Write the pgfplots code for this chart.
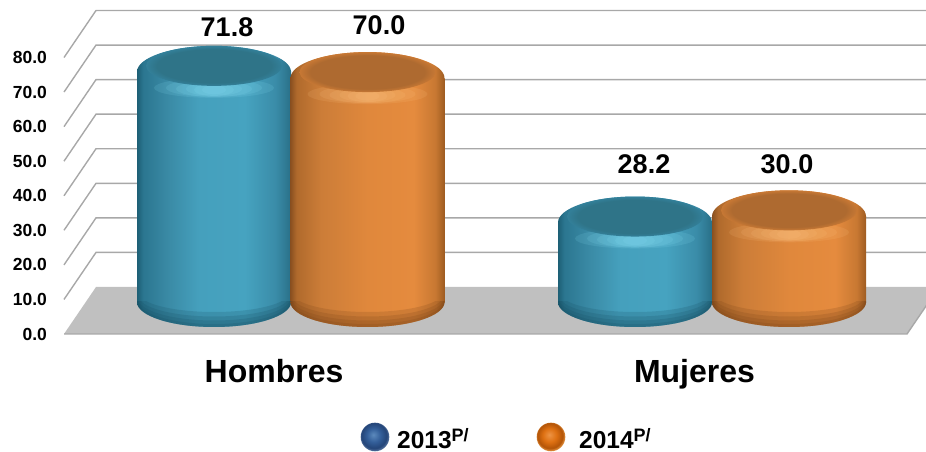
\documentclass[border=0pt]{standalone}
\usepackage{fontspec}
\setmainfont{Liberation Sans}
\usepackage{pgfplots}
\pgfplotsset{compat=1.18}

\definecolor{gridgray}{HTML}{A8A8A8}
\definecolor{floorgray}{HTML}{C0C0C0}
\definecolor{ta}{HTML}{174F63}
\definecolor{oa}{HTML}{7A4418}
\definecolor{thi}{HTML}{8FE6FA}
\definecolor{ohi}{HTML}{FFC98A}

% the visible part of a shading is its middle, 25bp to 75bp
\pgfdeclarehorizontalshading{bodyT}{100bp}{rgb(0bp)=(.114,.373,.459); rgb(25bp)=(.114,.373,.459); rgb(27bp)=(.169,.463,.565); rgb(35bp)=(.227,.541,.647);
  rgb(45bp)=(.271,.627,.741); rgb(60bp)=(.275,.639,.753); rgb(70bp)=(.227,.549,.659); rgb(75bp)=(.161,.438,.533); rgb(100bp)=(.161,.438,.533)}
\pgfdeclarehorizontalshading{bodyO}{100bp}{rgb(0bp)=(.541,.314,.125); rgb(25bp)=(.541,.314,.125); rgb(27bp)=(.69,.416,.173); rgb(35bp)=(.8,.49,.22);
  rgb(50bp)=(.878,.533,.235); rgb(65bp)=(.898,.545,.243); rgb(72bp)=(.784,.471,.196); rgb(75bp)=(.62,.36,.13); rgb(100bp)=(.62,.36,.13)}
\pgfdeclareradialshading{discT}{\pgfpoint{0bp}{0bp}}{rgb(0bp)=(.184,.455,.533); rgb(21bp)=(.184,.455,.533); rgb(25bp)=(.2,.5,.6); rgb(50bp)=(.2,.5,.6)}
\pgfdeclareradialshading{discO}{\pgfpoint{0bp}{0bp}}{rgb(0bp)=(.682,.416,.188); rgb(21bp)=(.682,.416,.188); rgb(25bp)=(.78,.47,.205); rgb(50bp)=(.78,.47,.205)}
\pgfdeclareradialshading{ballT}{\pgfpoint{-3bp}{4bp}}{rgb(0bp)=(.36,.54,.74); rgb(12bp)=(.20,.37,.60); rgb(22bp)=(.14,.27,.47); rgb(25bp)=(.28,.40,.58); rgb(50bp)=(.28,.40,.58)}
\pgfdeclareradialshading{ballO}{\pgfpoint{-3bp}{4bp}}{rgb(0bp)=(.93,.58,.27); rgb(12bp)=(.87,.44,.07); rgb(22bp)=(.70,.33,.03); rgb(25bp)=(.85,.52,.2); rgb(50bp)=(.85,.52,.2)}

\newcommand{\elli}[4]{\pgfpathellipse{\pgfpoint{#1pt}{#2pt}}{\pgfpoint{#3pt}{0pt}}{\pgfpoint{0pt}{#4pt}}}

% top of a cylinder, 14pt above the value on the front plane
\newcommand{\capmark}[4]{\pgfdeclareplotmark{#1}{%
  \pgftransformshift{\pgfpoint{0pt}{14pt}}%
  \elli{0}{0}{77}{26}\pgfshadepath{#2}{0}\pgfusepath{discard}%
  \pgfsetfillcolor{#4}\pgfsetfillopacity{0.13}%
  \elli{0}{-16}{60}{10}\pgfusepath{fill}%
  \elli{0}{-16}{48}{9}\pgfusepath{fill}%
  \elli{0}{-17}{38}{8}\pgfusepath{fill}%
  \elli{0}{-17}{28}{7}\pgfusepath{fill}%
  \elli{0}{-18}{20}{6}\pgfusepath{fill}%
  \elli{0}{-18}{12}{4.5}\pgfusepath{fill}%
  \pgfsetfillopacity{1}%
  \elli{0}{6}{68}{20}\pgfshadepath{#3}{0}\pgfusepath{discard}%
}}
% foot of a cylinder, lower half only, with a dark lower edge
\newcommand{\basemark}[3]{\pgfdeclareplotmark{#1}{%
  \pgftransformshift{\pgfpoint{0pt}{32pt}}%
  \pgfpathrectangle{\pgfpoint{-78pt}{-27pt}}{\pgfpoint{156pt}{27pt}}\pgfusepath{clip}%
  \elli{0}{0}{77}{25}\pgfshadepath{#2}{0}\pgfusepath{discard}%
  \pgfsetfillcolor{#3}\pgfsetfillopacity{0.2}\pgfseteorule
  \elli{0}{0}{77}{25}\elli{0}{1.5}{76.5}{23.5}\pgfusepath{fill}%
  \elli{0}{0}{77}{25}\elli{0}{3.5}{76}{22}\pgfusepath{fill}%
  \elli{0}{0}{77}{25}\elli{0}{6}{75.5}{20.5}\pgfusepath{fill}%
  \elli{0}{0}{77}{25}\elli{0}{9}{75}{19}\pgfusepath{fill}%
}}
\capmark{capT}{bodyT}{discT}{thi}
\capmark{capO}{bodyO}{discO}{ohi}
\basemark{baseT}{bodyT}{ta}
\basemark{baseO}{bodyO}{oa}
\pgfdeclareplotmark{sphereT}{\pgfpathcircle{\pgfpointorigin}{14.3pt}\pgfshadepath{ballT}{0}\pgfusepath{discard}}
\pgfdeclareplotmark{sphereO}{\pgfpathcircle{\pgfpointorigin}{14.3pt}\pgfshadepath{ballO}{0}\pgfusepath{discard}}

\pgfplotsset{
  gridline/.style={gridgray, line width=1.4pt, forget plot},
  body/.style={draw=none, shading=#1, yshift=14pt},
  vlabel/.style={draw=none, mark=none, nodes near coords, point meta=y,
    every node near coord/.append style={anchor=center, inner sep=0pt, yshift=#1pt, text=black,
      font=\fontsize{27}{30}\selectfont\bfseries}},
}

\begin{document}
\begin{tikzpicture}
\begin{axis}[
  scale only axis, width=926pt, height=452pt,
  xmin=0, xmax=926, ymin=-34.144, ymax=96.644,
  axis line style={draw=none},
  tick style={draw=none}, major tick length=0pt,
  /pgf/number format/assume math mode=true,
  /pgf/number format/fixed, /pgf/number format/fixed zerofill, /pgf/number format/precision=1,
  scaled y ticks=false,
  ytick={0,10,...,80},
  yticklabel style={anchor=east, xshift=50.5pt, font=\fontsize{17.5}{20}\selectfont\bfseries},
  xtick={274,694.5}, xticklabels={Hombres,Mujeres},
  xticklabel style={anchor=base, yshift=69pt, font=\fontsize{32}{34}\selectfont\bfseries},
]
  % back wall, side wall and floor
  \addplot[gridline] coordinates {(64,10)(96,23.6)(926,23.6)};
  \addplot[gridline] coordinates {(64,20)(96,33.6)(926,33.6)};
  \addplot[gridline] coordinates {(64,30)(96,43.6)(926,43.6)};
  \addplot[gridline] coordinates {(64,40)(96,53.6)(926,53.6)};
  \addplot[gridline] coordinates {(64,50)(96,63.6)(926,63.6)};
  \addplot[gridline] coordinates {(64,60)(96,73.6)(926,73.6)};
  \addplot[gridline] coordinates {(64,70)(96,83.6)(926,83.6)};
  \addplot[gridline] coordinates {(64,80)(96,93.6)(926,93.6)};
  \addplot[fill=floorgray, draw=none, forget plot] coordinates {(64,0)(96,13.6)(939,13.6)(907,0)} --cycle;
  \addplot[gridline] coordinates {(64,0)(907,0)(939,13.6)};

  % 2013
  \addplot[only marks, mark=baseT] coordinates {(214,0)};
  \addplot[body=bodyT] coordinates {(137,5.2)(137,71.8)(291,71.8)(291,5.2)} --cycle;
  \addplot[only marks, mark=capT] coordinates {(214,71.8)};
  % 2014
  \addplot[only marks, mark=baseO] coordinates {(367.5,0)};
  \addplot[body=bodyO] coordinates {(290.5,5.2)(290.5,70)(444.5,70)(444.5,5.2)} --cycle;
  \addplot[only marks, mark=capO] coordinates {(367.5,70)};
  % 2013
  \addplot[only marks, mark=baseT] coordinates {(635,0)};
  \addplot[body=bodyT] coordinates {(558,5.2)(558,28.2)(712,28.2)(712,5.2)} --cycle;
  \addplot[only marks, mark=capT] coordinates {(635,28.2)};
  % 2014
  \addplot[only marks, mark=baseO] coordinates {(789,0)};
  \addplot[body=bodyO] coordinates {(712,5.2)(712,30)(866,30)(866,5.2)} --cycle;
  \addplot[only marks, mark=capO] coordinates {(789,30)};

  % value labels
  \addplot[vlabel=59] coordinates {(227,71.8)};
  \addplot[vlabel=66.5] coordinates {(379,70)};
  \addplot[vlabel=72.5] coordinates {(644,28.2)};
  \addplot[vlabel=66.3] coordinates {(787,30)};

  % legend
  \addplot[only marks, mark=sphereT] coordinates {(375,-29.8)};
  \addplot[only marks, mark=sphereO] coordinates {(551,-29.8)};
  \node[anchor=base west, inner sep=0pt, font=\fontsize{24.5}{26}\selectfont\bfseries] at (axis cs:397,-33)
    {2013\raisebox{6.5pt}{\fontsize{18}{18}\selectfont P/}};
  \node[anchor=base west, inner sep=0pt, font=\fontsize{24.5}{26}\selectfont\bfseries] at (axis cs:579,-33)
    {2014\raisebox{6.5pt}{\fontsize{18}{18}\selectfont P/}};
\end{axis}
\path[use as bounding box] (0,0) rectangle (926pt,452pt);
\end{tikzpicture}
\end{document}
